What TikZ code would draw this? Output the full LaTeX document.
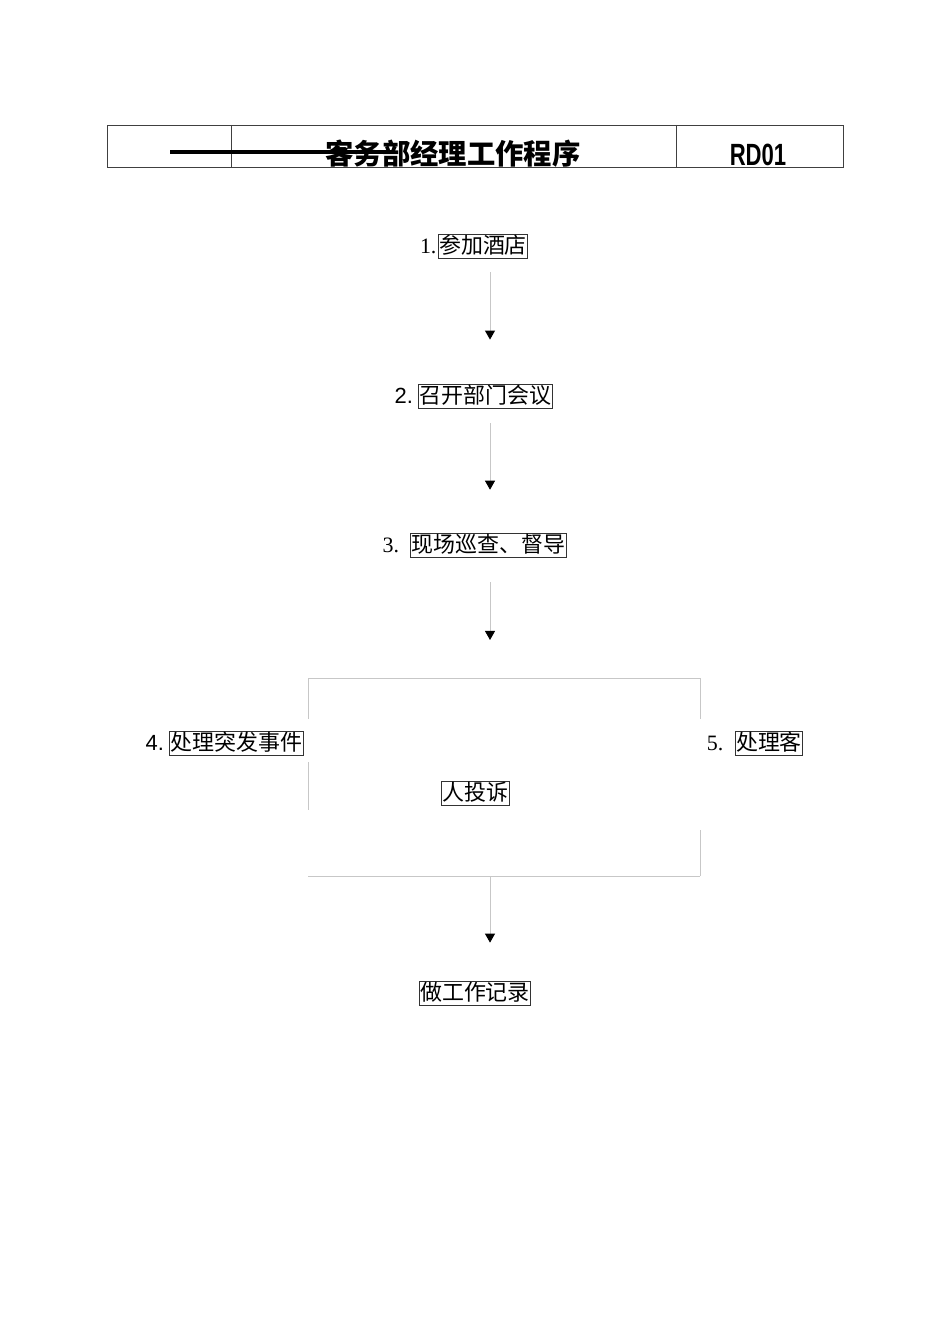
\documentclass[tikz,border=0pt]{standalone}
\usepackage{fontspec}
\setmainfont{Liberation Serif}
\newfontfamily\cjk{Noto Sans CJK SC}
\newfontfamily\arial{Liberation Sans}
\newfontfamily\narrow[FakeStretch=0.72]{Liberation Sans}
\usetikzlibrary{positioning,arrows.meta}

\begin{document}
\begin{tikzpicture}[x=0.0221cm, y=-0.0221cm]
    % Stili
    \tikzstyle{stepbox}=[rectangle, draw=black!80, line width=0.5pt, inner xsep=0.6pt, inner ysep=0.5pt, text height=11.8pt, text depth=2.2pt, font=\cjk\fontsize{13.8}{14}\selectfont]
    \tikzstyle{num}=[inner sep=0pt, font=\fontsize{13.8}{14}\selectfont]
    \tikzstyle{rule}=[draw=black!75, line width=0.5pt]
    \tikzstyle{frame}=[draw=black!22, line width=0.6pt]
    \tikzstyle{flow}=[draw=black!22, line width=0.6pt, -{Triangle[length=5.7pt, width=6.3pt, color=black]}]

    \useasboundingbox (0,0) rectangle (950,1344);

    % Testata
    \draw[rule] (107,125) rectangle (843,167);
    \draw[rule] (231,125) -- (231,167);
    \draw[rule] (676,125) -- (676,167);
    \node[font=\cjk\bfseries\fontsize{17.8}{18}\selectfont] (title) at (453,154) {客务部经理工作程序};
    \node[font=\narrow\bfseries\fontsize{19.3}{20}\selectfont] (code) at (758,155) {RD01};
    \draw[line width=1.9pt] (170,152) -- (392,152);

    % Passi
    \node[stepbox] (s1) at (483,246) {参加酒店};
    \node[num, base left=0.6pt of s1] (n1) {1.};
    \node[stepbox] (s2) at (485.5,396) {召开部门会议};
    \node[num, font=\arial\fontsize{13.8}{14}\selectfont, base left=3.1pt of s2] (n2) {2.};
    \node[stepbox] (s3) at (488.5,545) {现场巡查、督导};
    \node[num, base left=6.9pt of s3] (n3) {3.};
    \node[stepbox] (s4) at (236.5,743) {处理突发事件};
    \node[num, font=\arial\fontsize{13.8}{14}\selectfont, base left=3.1pt of s4] (n4) {4.};
    \node[stepbox] (s5) at (769,743) {处理客};
    \node[num, base left=6.9pt of s5] (n5) {5.};
    \node[stepbox] (s5b) at (475.5,793) {人投诉};
    \node[stepbox] (s6) at (475,993) {做工作记录};

    % Cornice
    \coordinate (ax) at (490,0);
    \coordinate (fa) at (308,678);
    \coordinate (fb) at (700,678);
    \coordinate (fc) at (700,876);
    \coordinate (fd) at (308,876);
    \draw[frame] (fa) -- (fb);
    \draw[frame] (fd) -- (fc);
    \draw[frame] (fa) -- ++(0,41);
    \draw[frame] (308,762) -- (308,810);
    \draw[frame] (fb) -- ++(0,41);
    \draw[frame] (700,830) -- (fc);

    % Frecce
    \draw[flow, shorten <=8.8pt, shorten >=27.7pt] (s1.south -| ax) -- (s2.north -| ax);
    \draw[flow, shorten <=9.4pt, shorten >=27pt] (s2.south -| ax) -- (s3.north -| ax);
    \draw[flow, shorten <=15.7pt, shorten >=23.9pt] (s3.south -| ax) -- (fa -| ax);
    \draw[flow, shorten >=23.9pt] (fd -| ax) -- (s6.north -| ax);
\end{tikzpicture}
\end{document}
